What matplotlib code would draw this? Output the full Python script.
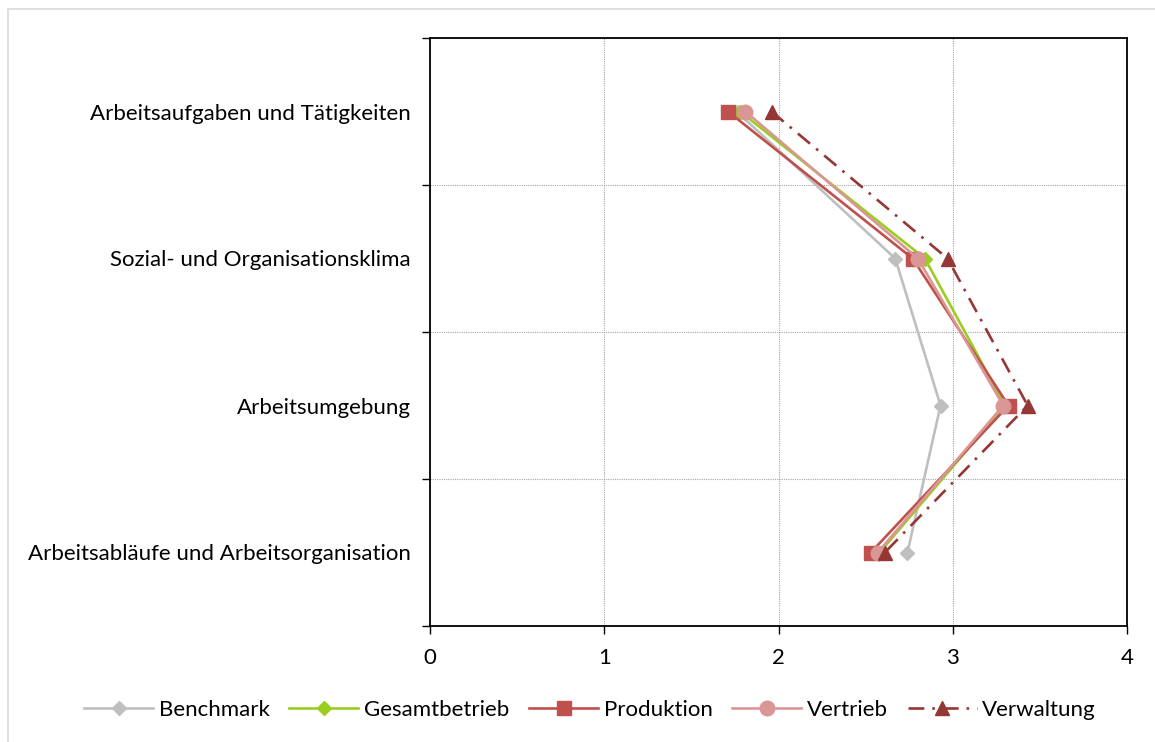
import matplotlib
matplotlib.use("Agg")
import matplotlib.pyplot as plt
from matplotlib.patches import Rectangle

categories = ["Arbeitsaufgaben und Tätigkeiten", "Sozial- und Organisationsklima",
              "Arbeitsumgebung", "Arbeitsabläufe und Arbeitsorganisation"]
benchmark = [1.76, 2.67, 2.93, 2.74]
gesamtbetrieb = [1.78, 2.84, 3.30, 2.58]
produktion = [1.71, 2.77, 3.32, 2.53]
vertrieb = [1.81, 2.80, 3.29, 2.57]
verwaltung = [1.96, 2.97, 3.43, 2.61]
x_ticks = [0, 1, 2, 3, 4]

plt.rcParams['font.family'] = ['Lato', 'DejaVu Sans']

fig = plt.figure(figsize=(11.55, 7.42), dpi=100)
ax = fig.add_axes([430/1155, 1-626/742, (1127-430)/1155, (626-38)/742])

ypos = list(range(len(categories)))
series = [
    ("Benchmark", benchmark, "#bfbfbf", "-", "D", 7.5),
    ("Gesamtbetrieb", gesamtbetrieb, "#9acd1e", "-", "D", 7.5),
    ("Produktion", produktion, "#c0504d", "-", "s", 10.5),
    ("Vertrieb", vertrieb, "#da9694", "-", "o", 10.5),
    ("Verwaltung", verwaltung, "#953735", (0, (6, 3, 1, 3)), "^", 10.5),
]
for name, vals, col, ls, mk, ms in series:
    ax.plot(vals, ypos, color=col, linestyle=ls, linewidth=1.9, marker=mk,
            markersize=ms, markeredgecolor=col, markerfacecolor=col, label=name)

ax.set_xlim(0, 4)
ax.set_ylim(3.5, -0.5)
ax.set_xticks(x_ticks)
ax.set_xticklabels([str(t) for t in x_ticks], fontsize=16)
ax.set_yticks([-0.5, 0.5, 1.5, 2.5, 3.5])
ax.set_yticklabels([])
ax.set_yticks(ypos, minor=True)
ax.set_yticklabels(categories, minor=True, fontsize=16)
ax.tick_params(axis='y', which='minor', length=0, pad=14)
ax.tick_params(axis='y', which='major', length=6, direction='out', width=1)
ax.tick_params(axis='x', which='major', length=6, direction='out', width=1, pad=10)
for s in ['top', 'right', 'left', 'bottom']:
    ax.spines[s].set_color('black')
    ax.spines[s].set_linewidth(1.3)
ax.grid(True, which='major', axis='both', color='#a6a6a6', linestyle=(0, (1, 1)), linewidth=0.8)
ax.set_axisbelow(True)

leg = fig.legend(loc='center', bbox_to_anchor=(590/1155, 1-710/742), ncol=5, frameon=False,
                 fontsize=16, handlelength=3.1, columnspacing=0.9, handletextpad=0.25)

fig.patches.append(Rectangle((8/1155, -0.05), 1.2, 1.05 - 9/742, transform=fig.transFigure,
                             fill=False, edgecolor='#d9d9d9', linewidth=1.2))

fig.savefig("out.png", dpi=100)
